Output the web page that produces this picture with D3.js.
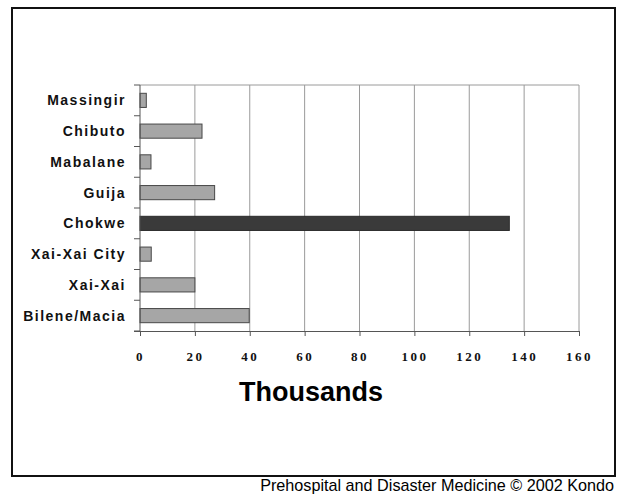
<!DOCTYPE html>
<html>
<head>
<meta charset="utf-8">
<script src="https://cdn.jsdelivr.net/npm/d3@7"></script>
<style>
  html, body { margin: 0; padding: 0; background: #fff; }
  svg { display: block; }
</style>
</head>
<body>
<svg id="chart" width="620" height="494"></svg>
<script>
// Districts, listed top to bottom
const districts = ["Massingir", "Chibuto", "Mabalane", "Guija", "Chokwe", "Xai-Xai City", "Xai-Xai", "Bilene/Macia"];
// Affected people, in thousands
const affected = [2.3, 22.6, 4.0, 27.2, 134.6, 4.1, 20.0, 39.8];
// The district drawn in the dark shade
const highlighted = ["Chokwe"];
const xTicks = [0, 20, 40, 60, 80, 100, 120, 140, 160];
const axisTitle = "Thousands";
const credit = "Prehospital and Disaster Medicine \u00A9 2002 Kondo";

const svg = d3.select("#chart");

// Outer frame
svg.append("rect")
  .attr("x", 12).attr("y", 8)
  .attr("width", 603).attr("height", 468)
  .attr("fill", "none").attr("stroke", "#111").attr("stroke-width", 2);

const plot = { left: 140, right: 579, top: 85, bottom: 331 };

const x = d3.scaleLinear().domain([0, 160]).range([plot.left, plot.right]);
const y = d3.scaleBand().domain(districts)
  .range([plot.top, plot.bottom])
  .paddingInner(0.54).paddingOuter(0.27);

// Vertical gridlines
svg.append("g").selectAll("line")
  .data(xTicks.slice(1))
  .join("line")
  .attr("x1", d => x(d)).attr("x2", d => x(d))
  .attr("y1", plot.top).attr("y2", plot.bottom)
  .attr("stroke", "#9a9a9a").attr("stroke-width", 1);

// Top border of the plot area
svg.append("line")
  .attr("x1", plot.left).attr("x2", plot.right)
  .attr("y1", plot.top).attr("y2", plot.top)
  .attr("stroke", "#9a9a9a").attr("stroke-width", 1);

// Bars
svg.append("g").selectAll("rect")
  .data(districts.map((d, i) => ({ name: d, value: affected[i] })))
  .join("rect")
  .attr("x", x(0))
  .attr("y", d => y(d.name))
  .attr("width", d => x(d.value) - x(0))
  .attr("height", y.bandwidth())
  .attr("fill", d => highlighted.includes(d.name) ? "#3a3a3a" : "#a6a6a6")
  .attr("stroke", d => highlighted.includes(d.name) ? "#2a2a2a" : "#484848")
  .attr("stroke-width", 1);

// Category axis: line plus ticks between bands
const yAxis = svg.append("g");
yAxis.append("line")
  .attr("x1", plot.left).attr("x2", plot.left)
  .attr("y1", plot.top).attr("y2", plot.bottom)
  .attr("stroke", "#555").attr("stroke-width", 1);
const boundaries = d3.range(districts.length + 1).map(i => plot.top + i * (plot.bottom - plot.top) / districts.length);
yAxis.selectAll("line.tick")
  .data(boundaries)
  .join("line").attr("class", "tick")
  .attr("x1", plot.left - 6).attr("x2", plot.left)
  .attr("y1", d => d).attr("y2", d => d)
  .attr("stroke", "#555").attr("stroke-width", 1);
yAxis.selectAll("text")
  .data(districts)
  .join("text")
  .attr("x", 126)
  .attr("y", d => y(d) + y.bandwidth() / 2)
  .attr("dy", "0.36em")
  .attr("text-anchor", "end")
  .attr("font-family", "'Liberation Sans', Arial, sans-serif")
  .attr("font-weight", "bold")
  .attr("font-size", 14)
  .attr("letter-spacing", "1.5px")
  .attr("fill", "#111")
  .text(d => d);

// Value axis built with d3.axisBottom, restyled
const xAxis = svg.append("g")
  .attr("transform", `translate(0,${plot.bottom})`)
  .call(d3.axisBottom(x).tickValues(xTicks).tickSize(5).tickSizeOuter(0).tickPadding(16).tickFormat(d3.format("d")));
xAxis.select(".domain").attr("stroke", "#555").attr("d", `M${plot.left - 6},0.5H${plot.right}`);
xAxis.selectAll(".tick line").attr("stroke", "#555");
xAxis.selectAll(".tick text")
  .attr("font-family", "'Liberation Serif', 'Times New Roman', serif")
  .attr("font-weight", "bold")
  .attr("font-size", 13)
  .attr("letter-spacing", "2.5px")
  .attr("fill", "#111");

// Axis title
svg.append("text")
  .attr("x", 311).attr("y", 401)
  .attr("text-anchor", "middle")
  .attr("font-family", "'Liberation Sans', Arial, sans-serif")
  .attr("font-weight", "bold")
  .attr("font-size", 27)
  .attr("fill", "#000")
  .text(axisTitle);

// Credit line under the frame
svg.append("text")
  .attr("x", 614).attr("y", 491)
  .attr("text-anchor", "end")
  .attr("font-family", "'Liberation Sans', Arial, sans-serif")
  .attr("font-size", 16.2)
  .attr("fill", "#000")
  .text(credit);
</script>
</body>
</html>
